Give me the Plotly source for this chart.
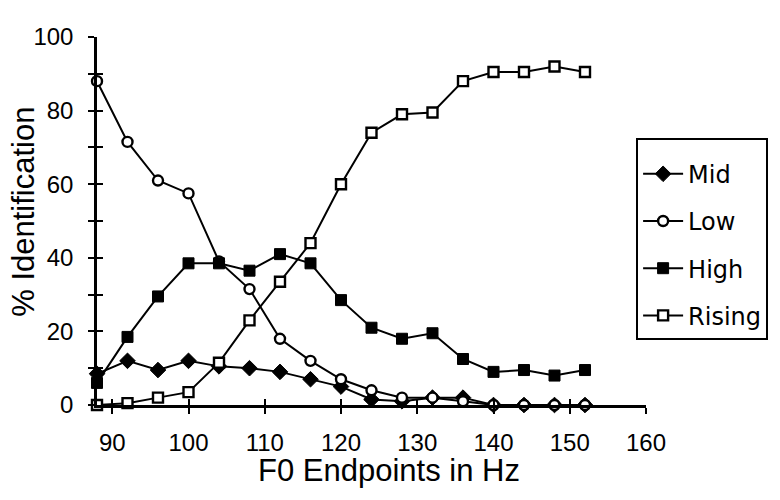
import plotly.graph_objects as go

# ---------------- data ----------------
f0_hz = [88, 92, 96, 100, 104, 108, 112, 116, 120, 124, 128, 132, 136, 140, 144, 148, 152]
mid = [8.5, 12, 9.5, 12, 10.5, 10, 9, 7, 5, 1.5, 1, 2, 2, 0, 0, 0, 0]
low = [88, 71.5, 61, 57.5, 39, 31.5, 18, 12, 7, 4, 2, 2, 1, 0, 0, 0, 0]
high = [6, 18.5, 29.5, 38.5, 38.5, 36.5, 41, 38.5, 28.5, 21, 18, 19.5, 12.5, 9, 9.5, 8, 9.5]
rising = [0, 0.5, 2, 3.5, 11.5, 23, 33.5, 44, 60, 74, 79, 79.5, 88, 90.5, 90.5, 92, 90.5]

series_names = ["Mid", "Low", "High", "Rising"]
x_tick_values = [90, 100, 110, 120, 130, 140, 150, 160]
x_tick_labels = ["90", "100", "110", "120", "130", "140", "150", "160"]
y_tick_values = [0, 10, 20, 30, 40, 50, 60, 70, 80, 90, 100]
y_tick_labels = ["0", "", "20", "", "40", "", "60", "", "80", "", "100"]
x_title = "F0 Endpoints in Hz"
y_title = "% Identification"

# ---------------- styling ----------------
INK = "black"
AX_FONT = "Liberation Sans, Arial, sans-serif"
styles = {
    "Mid": dict(symbol="diamond", size=12, color=INK, line=dict(color=INK, width=1)),
    "Low": dict(symbol="circle", size=10, color="white", line=dict(color=INK, width=2.4)),
    "High": dict(symbol="square", size=11, color=INK, line=dict(color=INK, width=1)),
    "Rising": dict(symbol="square", size=10, color="white", line=dict(color=INK, width=2.4)),
}
values = {"Mid": mid, "Low": low, "High": high, "Rising": rising}

fig = go.Figure()
for name in series_names:
    fig.add_trace(go.Scatter(
        x=f0_hz, y=values[name], name=name, mode="lines+markers",
        legendgroup=name,
        line=dict(color=INK, width=2),
        marker=styles[name],
        cliponaxis=False,
    ))
# empty trace so that the overlay axes (inner half of the crossing ticks) are drawn
fig.add_trace(go.Scatter(x=[], y=[], xaxis="x2", yaxis="y2", showlegend=False,
                         hoverinfo="skip"))

X_RANGE = [88, 160]
Y_RANGE = [0, 100]

L, R, T, B = 97, 128, 37, 95
W, H = 780, 500
pw = W - L - R
ph = H - T - B

axis_common = dict(showgrid=False, zeroline=False, linecolor=INK, linewidth=2.5,
                   tickcolor=INK, tickwidth=2, ticklen=6, mirror=False)

fig.update_layout(
    width=W, height=H,
    margin=dict(l=L, r=R, t=T, b=B),
    paper_bgcolor="white", plot_bgcolor="white",
    showlegend=True,
    xaxis=dict(range=X_RANGE, tickvals=x_tick_values, ticktext=x_tick_labels,
               ticks="outside", showline=True, ticklabelstandoff=8,
               tickfont=dict(family=AX_FONT, size=24, color=INK), **axis_common),
    yaxis=dict(range=Y_RANGE, tickvals=y_tick_values, ticktext=y_tick_labels,
               ticks="outside", showline=True, ticklabelstandoff=10,
               tickfont=dict(family=AX_FONT, size=24, color=INK), **axis_common),
    xaxis2=dict(range=X_RANGE, overlaying="x", anchor="y", tickvals=x_tick_values,
                ticks="inside", showline=False, showticklabels=False,
                showgrid=False, zeroline=False, tickcolor=INK, tickwidth=2, ticklen=6),
    yaxis2=dict(range=Y_RANGE, overlaying="y", anchor="x", side="left", tickvals=y_tick_values,
                ticks="inside", showline=False, showticklabels=False,
                showgrid=False, zeroline=False, tickcolor=INK, tickwidth=2, ticklen=6),
    legend=dict(
        x=(642 - L) / pw, y=(H - B - 138) / ph, xanchor="left", yanchor="top",
        bordercolor=INK, borderwidth=2, bgcolor="white",
        font=dict(family="DejaVu Sans, Verdana, sans-serif", size=24, color=INK),
        title=dict(text=" ", font=dict(size=9)),
        tracegroupgap=13, itemwidth=40,
    ),
    annotations=[
        dict(text=x_title, xref="paper", yref="paper",
             x=(392 - L) / pw, y=-(470 - (H - B)) / ph, xanchor="center", yanchor="middle",
             showarrow=False, font=dict(family=AX_FONT, size=31, color=INK)),
        dict(text=y_title, xref="paper", yref="paper", textangle=-90,
             x=(23 - L) / pw, y=((H - B) - 212) / ph, xanchor="center", yanchor="middle",
             showarrow=False, font=dict(family=AX_FONT, size=31, color=INK)),
    ],
)

fig.write_html("out.html")
